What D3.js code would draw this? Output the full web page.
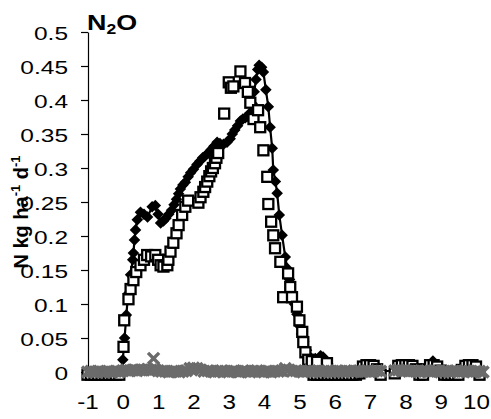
<!DOCTYPE html>
<html><head><meta charset="utf-8">
<script src="https://cdn.jsdelivr.net/npm/d3@7"></script>
<style>body{margin:0;background:#fff}svg{display:block}text{font-family:"Liberation Sans",Arial,sans-serif}</style>
</head><body><svg id="c" width="491" height="419"></svg>
<script>
const yTicks=[0,0.05,0.1,0.15,0.2,0.25,0.3,0.35,0.4,0.45,0.5];
const yTickLabels=["0","0.05","0.1","0.15","0.2","0.25","0.3","0.35","0.4","0.45","0.5"];
const xTicks=[-1,0,1,2,3,4,5,6,7,8,9,10];
const xTickLabels=["-1","0","1","2","3","4","5","6","7","8","9","10"];

// series 1: filled diamonds with line
const diamondSeries=[[-1,0],[-0.5,0],[-0.05,0.002],[0,0.018],[0.05,0.05],[0.1,0.084],[0.15,0.115],[0.22,0.143],[0.28,0.165],[0.3,0.175],
[0.33,0.194],[0.36,0.209],[0.41,0.224],[0.5,0.235],[0.6,0.232],[0.7,0.228],[0.83,0.243],[0.92,0.245],[1.0,0.232],[1.07,0.219],
[1.15,0.222],[1.22,0.226],[1.3,0.232],[1.38,0.238],[1.45,0.246],[1.52,0.254],[1.58,0.262],[1.63,0.269],[1.7,0.275],[1.77,0.279],
[1.85,0.287],[1.92,0.293],[2.0,0.298],[2.1,0.305],[2.18,0.31],[2.26,0.315],[2.34,0.318],[2.42,0.322],[2.5,0.327],[2.58,0.332],
[2.67,0.338],[2.75,0.336],[2.85,0.335],[2.95,0.338],[3.04,0.343],[3.1,0.35],[3.17,0.356],[3.25,0.362],[3.33,0.369],[3.4,0.372],
[3.47,0.374],[3.54,0.376],[3.6,0.381],[3.66,0.395],[3.72,0.412],[3.77,0.43],[3.82,0.445],[3.86,0.451],[3.93,0.448],[3.98,0.441],
[4.05,0.415],[4.12,0.39],[4.17,0.36],[4.23,0.329],[4.26,0.297],[4.32,0.28],[4.37,0.263],[4.43,0.231],[4.51,0.201],[4.6,0.169],
[4.66,0.152],[4.72,0.136],[4.8,0.115],[4.86,0.1],[4.93,0.085],[5.0,0.068],[5.06,0.056],[5.12,0.045],[5.2,0.032],[5.3,0.022],
[5.45,0.02],[5.6,0.024],[5.67,0.022],[5.8,0.012],[5.9,0.005],[6.0,0],[6.5,0],
[7.0,0.004],[7.2,0],[8.0,0.004],[8.5,0],[8.78,0.016],[9.0,0],[9.5,0],[10.0,0.003]];

// series 2: open squares
const squareSeries=[[-1.0,-0.004],[-0.9,-0.004],[-0.8,-0.004],[-0.7,-0.004],[-0.6,-0.004],[-0.5,-0.004],[-0.4,-0.004],[-0.3,-0.004],[-0.2,-0.004],[-0.1,-0.004],
[0.02,0.037],[0.04,0.076],[0.16,0.107],[0.22,0.122],[0.3,0.135],[0.38,0.147],[0.5,0.157],[0.6,0.165],[0.69,0.172],[0.8,0.17],
[0.92,0.172],[1.0,0.165],[1.07,0.157],[1.15,0.155],[1.26,0.157],[1.29,0.165],[1.35,0.177],[1.43,0.19],[1.52,0.204],[1.58,0.216],
[1.68,0.231],[1.77,0.243],[1.85,0.252],[2.14,0.249],[2.2,0.257],[2.28,0.265],[2.33,0.272],[2.39,0.28],[2.45,0.288],[2.5,0.295],
[2.55,0.3],[2.61,0.307],[2.65,0.315],[2.7,0.322],[2.87,0.38],
[3.0,0.426],[3.06,0.418],[3.13,0.42],[3.33,0.442],[3.46,0.425],[3.54,0.412],[3.61,0.396],[3.7,0.372],[3.83,0.385],[3.89,0.36],
[3.98,0.326],[4.09,0.287],[4.12,0.247],[4.2,0.221],[4.26,0.201],[4.31,0.182],[4.46,0.162],[4.54,0.11],[4.68,0.145],[4.74,0.125],
[4.79,0.11],[4.93,0.096],[5.0,0.076],[5.08,0.059],[5.11,0.044],[5.17,0.029],[5.25,0.018],[5.35,0.016],[5.5,0.015],[5.78,0.013],
[5.4,-0.004],[5.5,-0.004],[5.6,-0.004],[5.7,-0.004],[5.8,-0.004],[5.9,-0.004],[6.0,-0.004],[6.1,-0.004],[6.2,-0.004],[6.3,-0.004],[6.4,-0.004],[6.5,-0.004],[6.6,-0.004],[6.7,-0.002],
[6.8,0.008],[6.9,0.01],[7.0,0.01],[7.1,0.009],[7.2,0.004],[7.3,-0.004],
[7.7,-0.002],[7.8,0.009],[7.9,0.01],[8.0,0.01],[8.1,0.01],[8.2,0.009],[8.3,0.004],[8.4,-0.004],[8.5,-0.004],[8.6,0.004],
[8.7,0.01],[8.8,0.01],[8.9,0.008],[9.0,0.002],[9.1,-0.004],[9.2,-0.004],[9.3,-0.004],[9.4,-0.004],[9.5,-0.004],[9.6,0.003],
[9.7,0.009],[9.8,0.01],[9.9,0.01],[10.0,0.008],[10.1,-0.004]];

// series 3: grey crosses near zero
const crossSeries=[[-1.0,0],[-0.9,0.001],[-0.8,0],[-0.7,0.001],[-0.6,0],[-0.5,0],[-0.4,0.001],[-0.3,0],[-0.2,0.001],[-0.1,0],
[0.0,0.002],[0.1,0.003],[0.2,0.002],[0.3,0.003],[0.4,0.002],[0.5,0.003],[0.6,0.003],[0.7,0.004],[0.8,0.003],[0.87,0.02],[0.9,0.004],
[1.0,0.002],[1.1,0.001],[1.2,0.001],[1.3,0],[1.4,0.001],[1.5,0.001],[1.6,0],[1.7,0.001],[1.8,0.002],
[1.9,0.005],[2.0,0.006],[2.1,0.005],[2.2,0.003],
[2.3,0.001],[2.4,0.002],[2.5,0.001],[2.6,0],[2.7,0.001],[2.8,0.002],[2.9,0.001],[3.0,0],[3.1,0.001],[3.2,0.001],
[3.3,0],[3.4,0.002],[3.5,0.001],[3.6,0],[3.7,0.001],[3.8,0.002],[3.9,0.001],[4.0,0],[4.1,0.001],[4.2,0],[4.3,0.001],[4.4,0.001],[4.5,0.002],
[4.6,0.005],[4.7,0.003],
[4.8,0.001],[4.9,0.002],[5.0,0.001],[5.1,0],[5.2,0.001],[5.3,0.002],[5.4,0.001],[5.5,0.001],[5.6,0],[5.7,0.001],
[5.8,0.002],[5.9,0.001],[6.0,0],[6.1,0.001],[6.2,0.001],[6.3,0.002],[6.4,0.001],[6.5,0],[6.6,0.001],[6.7,0.002],
[6.8,0.001],[6.9,0.001],[7.0,0],[7.1,0.001],[7.2,0.002],[7.3,0.001],
[7.7,0.002],[7.8,0.003],[7.9,0.002],[8.0,0.002],[8.1,0.001],[8.2,0.002],[8.3,0.001],[8.4,0],[8.5,0.001],[8.6,0.002],
[8.7,0.001],[8.8,0.002],[8.9,0.001],[9.0,0],[9.1,0.001],[9.2,0.002],[9.3,0.001],[9.4,0.001],[9.5,0],[9.6,0.001],
[9.7,0.002],[9.8,0.001],[9.9,0],[10.0,0.001],[10.1,0.001],[10.2,0]];

const svg=d3.select("#c");
const x=d3.scaleLinear().domain([-1,10]).range([87.5,476]);
const y=d3.scaleLinear().domain([0,0.5]).range([372,32]);

// y axis
const gy=svg.append("g").attr("transform","translate(88,0)")
  .call(d3.axisLeft(y).tickValues(yTicks).tickFormat((d,i)=>yTickLabels[i]).tickSize(7).tickPadding(0).tickSizeOuter(0));
gy.select(".domain").attr("stroke","#000").attr("stroke-width",1.2);
gy.selectAll(".tick line").attr("stroke","#000").attr("stroke-width",1.2);
gy.selectAll(".tick text").attr("x",0).attr("dy","0.4em").attr("fill","#000")
  .style("font-size","17.5px").attr("text-anchor","end")
  .attr("transform","translate(-20,0) scale(1.4,1)");

// x axis labels
const gx=svg.append("g").attr("transform","translate(0,372)")
  .call(d3.axisBottom(x).tickValues(xTicks).tickFormat((d,i)=>xTickLabels[i]).tickSize(0).tickPadding(0));
gx.select(".domain").remove();
gx.selectAll(".tick text").attr("y",0).attr("dy",0).attr("fill","#000")
  .style("font-size","20.5px")
  .attr("transform","translate(0,37) scale(1.18,1)");

// diamond line + markers
const line=d3.line().x(d=>x(d[0])).y(d=>y(d[1]));
svg.append("path").datum(diamondSeries).attr("d",line).attr("fill","none").attr("stroke","#000").attr("stroke-width",2.2);
const dsym=d3.symbol().type(d3.symbolDiamond2).size(85);
svg.append("g").selectAll("path").data(diamondSeries).join("path")
  .attr("d",dsym).attr("transform",d=>`translate(${x(d[0])},${y(d[1])})`).attr("fill","#000");

// squares
svg.append("g").selectAll("rect").data(squareSeries).join("rect")
  .attr("x",d=>x(d[0])-5).attr("y",d=>y(d[1])-5).attr("width",10).attr("height",10)
  .attr("fill","#fff").attr("stroke","#000").attr("stroke-width",2.3);

// grey crosses
const xsym=d3.symbol().type(d3.symbolX).size(82);
svg.append("g").selectAll("path").data(crossSeries).join("path")
  .attr("d",xsym).attr("transform",d=>`translate(${x(d[0])},${y(d[1])})`)
  .attr("fill","none").attr("stroke","#6b6b6b").attr("stroke-width",3.4);

// title N2O
const t=svg.append("text").attr("transform","translate(87,30) scale(1.25,1)")
  .style("font-size","21.5px").style("font-weight","bold").attr("fill","#000");
t.append("tspan").text("N");
t.append("tspan").text("2").style("font-size","14px").attr("dy",4);
t.append("tspan").text("O").attr("dy",-4);

// y axis title
const yl=svg.append("text").attr("transform","translate(28,212) rotate(-90)")
  .attr("text-anchor","middle").style("font-size","20px").style("font-weight","bold").attr("fill","#000");
yl.append("tspan").text("N kg ha");
yl.append("tspan").text("-1").style("font-size","13px").attr("dy",-8);
yl.append("tspan").text(" d").attr("dy",8);
yl.append("tspan").text("-1").style("font-size","13px").attr("dy",-8);
</script></body></html>
